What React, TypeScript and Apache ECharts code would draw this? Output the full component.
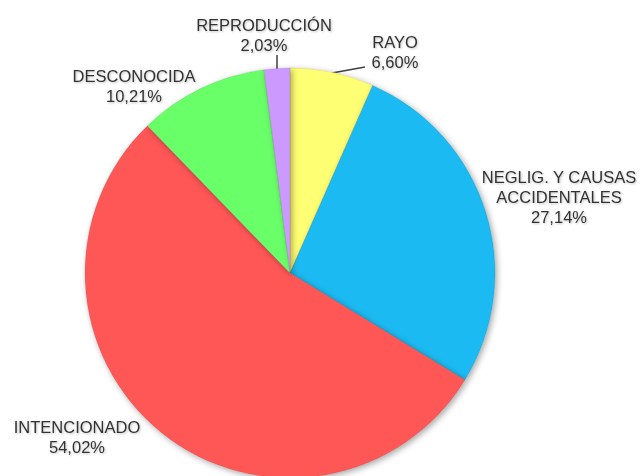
import React, { useEffect, useRef } from "react";
import * as echarts from "echarts";

const names = ["RAYO", "NEGLIG. Y CAUSAS\nACCIDENTALES", "INTENCIONADO", "DESCONOCIDA", "REPRODUCCIÓN"];
const values = [6.6, 27.14, 54.02, 10.21, 2.03];
const colors = ["#FFFF73", "#1ABAF2", "#FF5757", "#69FF69", "#CC99FF"];

const labelPos: { x: number; y: number; line?: number[][] }[] = [
  { x: 395, y: 52, line: [[332, 73], [365, 67]] },
  { x: 559, y: 197 },
  { x: 77, y: 437 },
  { x: 134, y: 86 },
  { x: 264, y: 35, line: [[277, 70], [277, 55]] },
];

export default function App() {
  const ref = useRef<HTMLDivElement>(null);
  useEffect(() => {
    document.body.style.margin = "0";
    const chart = echarts.init(ref.current!, null, { renderer: "svg" });
    chart.setOption({
      animation: false,
      backgroundColor: "#ffffff",
      series: [
        {
          type: "pie",
          center: [290, 273],
          radius: 205,
          startAngle: 90,
          clockwise: true,
          data: names.map((n, i) => ({
            name: n,
            value: values[i],
            itemStyle: { color: colors[i] },
            labelLine: { show: !!labelPos[i].line },
          })),
          itemStyle: {
            shadowBlur: 6,
            shadowOffsetX: 2,
            shadowOffsetY: 2,
            shadowColor: "rgba(0,0,0,0.35)",
            borderColor: "rgba(0,0,0,0.08)",
            borderWidth: 1,
          },
          label: {
            show: true,
            position: "outside",
            overflow: "none",
            formatter: (p: any) => `${p.name}\n${p.value.toFixed(2).replace(".", ",")}%`,
            fontFamily: "Liberation Sans, Arial, sans-serif",
            fontSize: 16.5,
            lineHeight: 20,
            color: "#333333",
            align: "center",
            textShadowColor: "rgba(0,0,0,0.25)",
            textShadowBlur: 2,
            textShadowOffsetX: 1,
            textShadowOffsetY: 1,
          },
          labelLine: {
            show: true,
            lineStyle: { color: "#404040", width: 1.5 },
          },
          labelLayout: (params: any) => {
            const p = labelPos[params.dataIndex];
            const res: any = { x: p.x, y: p.y, align: "center", verticalAlign: "middle" };
            if (p.line) res.labelLinePoints = p.line;
            return res;
          },
        },
      ],
    });
    return () => chart.dispose();
  }, []);
  return <div ref={ref} style={{ width: 641, height: 476 }} />;
}
